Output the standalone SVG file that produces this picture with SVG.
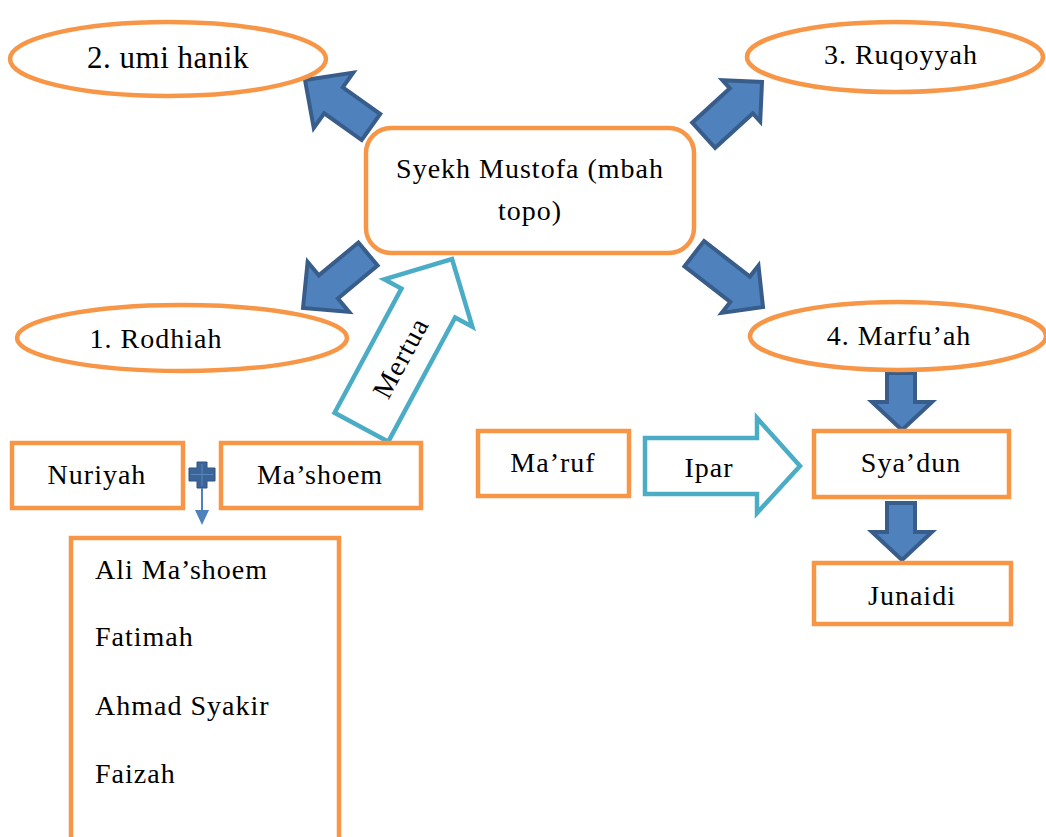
<svg xmlns="http://www.w3.org/2000/svg" width="1046" height="837" viewBox="0 0 1046 837">
<style>
.o{fill:#fff;stroke:#F79646;stroke-width:4.5}
.b{fill:#4F81BD;stroke:#385D8A;stroke-width:4;stroke-linejoin:miter}
.c{fill:#fff;stroke:#4BACC6;stroke-width:4.5}
text{font-family:"Liberation Serif","Times New Roman",serif;font-size:28px;letter-spacing:1px;fill:#000}
.m{text-anchor:middle}
</style>
<rect width="1046" height="837" fill="#fff"/>
<g id="connectors">
<polygon class="b" transform="translate(305,80) rotate(215.5)" points="0,0 -35,34 -35,16 -81,16 -81,-16 -35,-16 -35,-34"/>
<polygon class="b" transform="translate(762,82) rotate(-42.4)" points="0,0 -28,28 -28,17 -79,17 -79,-17 -28,-17 -28,-28"/>
<polygon class="b" transform="translate(303,308) rotate(140.3)" points="0,0 -33,32.5 -33,15 -84.5,15 -84.5,-15 -33,-15 -33,-32.5"/>
<polygon class="b" transform="translate(763,307) rotate(37.8)" points="0,0 -29,30 -29,16 -87,16 -87,-16 -29,-16 -29,-30"/>
<polygon class="b" points="887,373 915,373 915,402 932,402 902,430 872,402 887,402"/>
<polygon class="b" points="887,503 915,503 915,532 932,532 902,560 872,532 887,532"/>
<g id="mertua">
<polygon class="c" transform="translate(452,259) rotate(-61.7)" points="0,0 -50,50 -50,30.5 -191,30.5 -191,-30.5 -50,-30.5 -50,-50"/>
<text class="m" transform="translate(401,358) rotate(-61.7)" y="9">Mertua</text>
</g>
<g id="ipar">
<polygon class="c" points="645,438 757,438 757,418 800,466 757,513 757,494 645,494"/>
<text class="m" x="709" y="477">Ipar</text>
</g>
<g id="plus">
<path d="M197,462h10v6h8v13h-8v7h-10v-7h-8v-13h8z" fill="#3B6497" stroke="#2F5382" stroke-width="1"/>
<path d="M202,464v22M191,474.5h22" stroke="#5B86BD" stroke-width="1"/>
<line x1="202" y1="488" x2="202" y2="511" stroke="#4F81BD" stroke-width="2"/>
<polygon points="195,510 209,510 202,525" fill="#4F81BD"/>
</g>
</g>
<g id="n-umi"><ellipse class="o" cx="168" cy="59" rx="158" ry="37"/><text class="m" x="168" y="68" style="font-size:31px;letter-spacing:0.5px">2. umi hanik</text></g>
<g id="n-ruq"><ellipse class="o" cx="895" cy="57" rx="148" ry="35"/><text class="m" x="901" y="64">3. Ruqoyyah</text></g>
<g id="n-rod"><ellipse class="o" cx="182" cy="338" rx="165" ry="33"/><text class="m" x="156" y="348">1. Rodhiah</text></g>
<g id="n-mar"><ellipse class="o" cx="898" cy="336" rx="148" ry="34"/><text class="m" x="899" y="345">4. Marfu’ah</text></g>
<g id="n-syekh"><rect class="o" x="366" y="128" width="328" height="125" rx="25"/><text class="m" x="530" y="178">Syekh Mustofa (mbah</text><text class="m" x="530" y="220">topo)</text></g>
<g id="n-nur"><rect class="o" x="12" y="443" width="171" height="65"/><text class="m" x="97" y="484">Nuriyah</text></g>
<g id="n-mas"><rect class="o" x="221" y="443" width="200" height="65"/><text class="m" x="320" y="484">Ma’shoem</text></g>
<g id="n-maruf"><rect class="o" x="478" y="431" width="151" height="65"/><text class="m" x="553" y="472">Ma’ruf</text></g>
<g id="n-syadun"><rect class="o" x="814" y="431" width="195" height="66"/><text class="m" x="911" y="472">Sya’dun</text></g>
<g id="n-jun"><rect class="o" x="814" y="563" width="197" height="61"/><text class="m" x="912" y="605">Junaidi</text></g>
<g id="n-list"><rect class="o" x="71" y="538" width="268" height="310"/>
<text x="95" y="579">Ali Ma’shoem</text><text x="95" y="646">Fatimah</text><text x="95" y="715">Ahmad Syakir</text><text x="95" y="783">Faizah</text></g>
</svg>
